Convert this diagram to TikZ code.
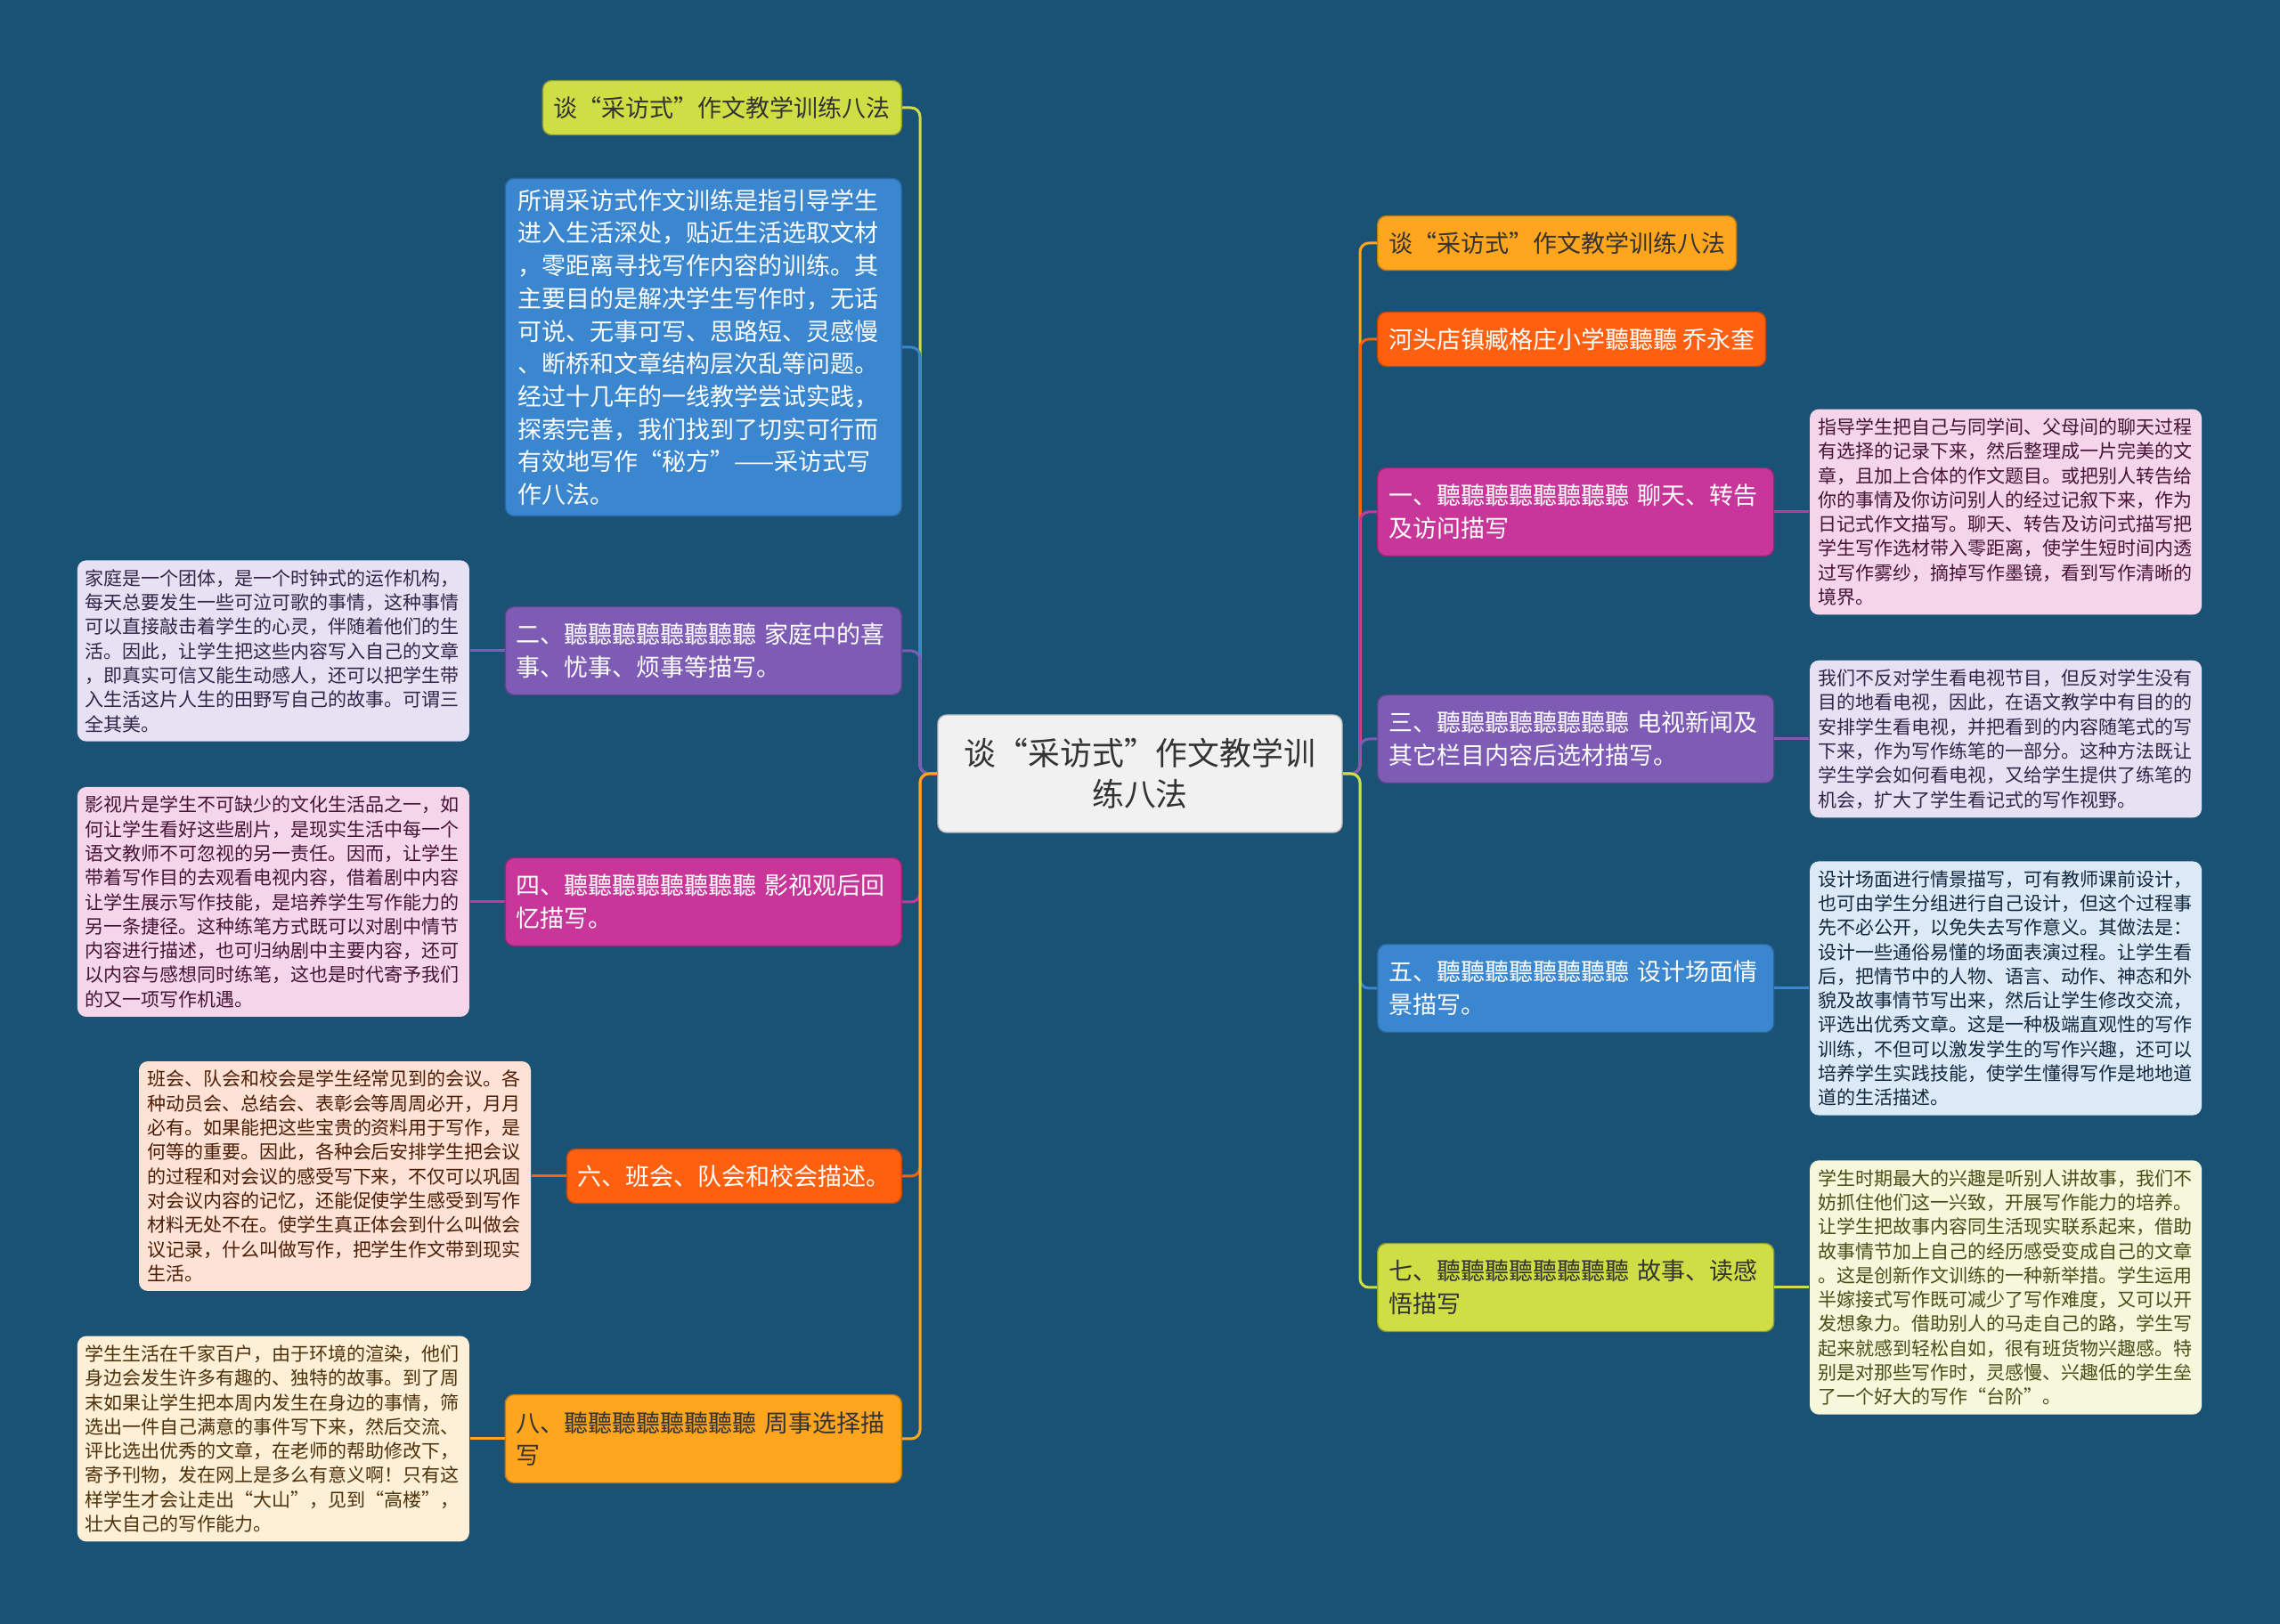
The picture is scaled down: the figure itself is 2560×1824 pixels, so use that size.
\documentclass[tikz,border=0pt]{standalone}
\usepackage{fontspec}
\newfontfamily\cjk{Noto Sans CJK SC}
\usetikzlibrary{positioning}

\definecolor{bgblue}{HTML}{1A5276}
\definecolor{hubfill}{HTML}{F1F1F1}
\definecolor{lime}{HTML}{D0DE45}
\definecolor{sky}{HTML}{3A86CF}
\definecolor{violet}{HTML}{7E5BB5}
\definecolor{rose}{HTML}{C8369A}
\definecolor{flame}{HTML}{FF6010}
\definecolor{amber}{HTML}{FFA51E}
\definecolor{violetpale}{HTML}{E7E2F3}
\definecolor{rosepale}{HTML}{F4D5EA}
\definecolor{flamepale}{HTML}{FDE2D5}
\definecolor{amberpale}{HTML}{FEEFD7}
\definecolor{skypale}{HTML}{DCE9F6}
\definecolor{limepale}{HTML}{F5F8DB}

\begin{document}
\begin{tikzpicture}[x=0.1mm,y=-0.1mm,node distance=3.9mm,
  every node/.style={rounded corners=1mm,font=\cjk},
  hub/.style={fill=hubfill,draw=black!25,text=black!80,align=center,
    font=\cjk\fontsize{10.2pt}{13.1pt}\selectfont,minimum width=45.4mm,minimum height=13.2mm},
  branch/.style={font=\cjk\fontsize{7.68pt}{10.44pt}\selectfont,inner xsep=1.25mm,inner ysep=0pt,
    minimum height=6.1mm},
  twoline/.style={branch,text width=42mm,align=left,minimum height=9.9mm},
  leaf/.style={font=\cjk\fontsize{5.975pt}{7.77pt}\selectfont,text width=42.2mm,align=left,
    inner xsep=0.9mm,inner ysep=1mm},
  link/.style={line width=0.3mm,rounded corners=1mm}]
\fill[bgblue] (0,0) rectangle (2560,1824);

\node[hub] (c) at (1280,869) {谈“采访式”作文教学训\\练八法};
\coordinate (lj) at (1033,869);
\coordinate (rj) at (1527,869);

% left side
\node[branch,fill=lime,draw=lime!70!black,text=black!80,anchor=east] (l0) at (1013,121) {谈“采访式”作文教学训练八法};
\node[branch,fill=sky,draw=sky!75!black,text=white,text width=41.7mm,align=left,inner xsep=1.4mm,inner ysep=1.2mm,
  font=\cjk\fontsize{7.68pt}{10.44pt}\selectfont,anchor=east] (l1) at (1013,390)
  {所谓采访式作文训练是指引导学生\\进入生活深处，贴近生活选取文材\\，零距离寻找写作内容的训练。其\\主要目的是解决学生写作时，无话\\可说、无事可写、思路短、灵感慢\\、断桥和文章结构层次乱等问题。\\经过十几年的一线教学尝试实践，\\探索完善，我们找到了切实可行而\\有效地写作“秘方”——采访式写\\作八法。};
\node[twoline,fill=violet,draw=violet!75!black,text=white,anchor=east] (l2) at (1013,731)
  {二、聽聽聽聽聽聽聽聽~家庭中的喜\\事、忧事、烦事等描写。};
\node[leaf,fill=violetpale,text=violet!40!black,left=of l2] (d2)
  {家庭是一个团体，是一个时钟式的运作机构，\\每天总要发生一些可泣可歌的事情，这种事情\\可以直接敲击着学生的心灵，伴随着他们的生\\活。因此，让学生把这些内容写入自己的文章\\，即真实可信又能生动感人，还可以把学生带\\入生活这片人生的田野写自己的故事。可谓三\\全其美。};
\node[twoline,fill=rose,draw=rose!75!black,text=white,anchor=east] (l4) at (1013,1013)
  {四、聽聽聽聽聽聽聽聽~影视观后回\\忆描写。};
\node[leaf,fill=rosepale,text=rose!35!black,left=of l4] (d4)
  {影视片是学生不可缺少的文化生活品之一，如\\何让学生看好这些剧片，是现实生活中每一个\\语文教师不可忽视的另一责任。因而，让学生\\带着写作目的去观看电视内容，借着剧中内容\\让学生展示写作技能，是培养学生写作能力的\\另一条捷径。这种练笔方式既可以对剧中情节\\内容进行描述，也可归纳剧中主要内容，还可\\以内容与感想同时练笔，这也是时代寄予我们\\的又一项写作机遇。};
\node[branch,fill=flame,draw=flame!75!black,text=white,anchor=east] (l6) at (1013,1321)
  {六、班会、队会和校会描述。};
\node[leaf,fill=flamepale,text=flame!30!black,left=of l6] (d6)
  {班会、队会和校会是学生经常见到的会议。各\\种动员会、总结会、表彰会等周周必开，月月\\必有。如果能把这些宝贵的资料用于写作，是\\何等的重要。因此，各种会后安排学生把会议\\的过程和对会议的感受写下来，不仅可以巩固\\对会议内容的记忆，还能促使学生感受到写作\\材料无处不在。使学生真正体会到什么叫做会\\议记录，什么叫做写作，把学生作文带到现实\\生活。};
\node[twoline,fill=amber,draw=amber!75!black,text=black!80,anchor=east] (l8) at (1013,1616)
  {八、聽聽聽聽聽聽聽聽~周事选择描\\写};
\node[leaf,fill=amberpale,text=amber!30!black,left=of l8] (d8)
  {学生生活在千家百户，由于环境的渲染，他们\\身边会发生许多有趣的、独特的故事。到了周\\末如果让学生把本周内发生在身边的事情，筛\\选出一件自己满意的事件写下来，然后交流、\\评比选出优秀的文章，在老师的帮助修改下，\\寄予刊物，发在网上是多么有意义啊！只有这\\样学生才会让走出“大山”，见到“高楼”，\\壮大自己的写作能力。};

% right side
\node[branch,fill=amber,draw=amber!75!black,text=black!80,anchor=west] (r0) at (1546,273) {谈“采访式”作文教学训练八法};
\node[branch,fill=flame,draw=flame!75!black,text=white,anchor=west] (r9) at (1546,381) {河头店镇臧格庄小学聽聽聽 乔永奎};
\node[twoline,fill=rose,draw=rose!75!black,text=white,anchor=west] (r1) at (1546,575)
  {一、聽聽聽聽聽聽聽聽~聊天、转告\\及访问描写};
\node[leaf,fill=rosepale,text=rose!35!black,right=of r1] (d1)
  {指导学生把自己与同学间、父母间的聊天过程\\有选择的记录下来，然后整理成一片完美的文\\章，且加上合体的作文题目。或把别人转告给\\你的事情及你访问别人的经过记叙下来，作为\\日记式作文描写。聊天、转告及访问式描写把\\学生写作选材带入零距离，使学生短时间内透\\过写作雾纱，摘掉写作墨镜，看到写作清晰的\\境界。};
\node[twoline,fill=violet,draw=violet!75!black,text=white,anchor=west] (r3) at (1546,830)
  {三、聽聽聽聽聽聽聽聽~电视新闻及\\其它栏目内容后选材描写。};
\node[leaf,fill=violetpale,text=violet!40!black,right=of r3] (d3)
  {我们不反对学生看电视节目，但反对学生没有\\目的地看电视，因此，在语文教学中有目的的\\安排学生看电视，并把看到的内容随笔式的写\\下来，作为写作练笔的一部分。这种方法既让\\学生学会如何看电视，又给学生提供了练笔的\\机会，扩大了学生看记式的写作视野。};
\node[twoline,fill=sky,draw=sky!75!black,text=white,anchor=west] (r5) at (1546,1110)
  {五、聽聽聽聽聽聽聽聽~设计场面情\\景描写。};
\node[leaf,fill=skypale,text=sky!30!black,right=of r5] (d5)
  {设计场面进行情景描写，可有教师课前设计，\\也可由学生分组进行自己设计，但这个过程事\\先不必公开，以免失去写作意义。其做法是：\\设计一些通俗易懂的场面表演过程。让学生看\\后，把情节中的人物、语言、动作、神态和外\\貌及故事情节写出来，然后让学生修改交流，\\评选出优秀文章。这是一种极端直观性的写作\\训练，不但可以激发学生的写作兴趣，还可以\\培养学生实践技能，使学生懂得写作是地地道\\道的生活描述。};
\node[twoline,fill=lime,draw=lime!70!black,text=black!80,anchor=west] (r7) at (1546,1446)
  {七、聽聽聽聽聽聽聽聽~故事、读感\\悟描写};
\node[leaf,fill=limepale,text=lime!35!black,right=of r7] (d7)
  {学生时期最大的兴趣是听别人讲故事，我们不\\妨抓住他们这一兴致，开展写作能力的培养。\\让学生把故事内容同生活现实联系起来，借助\\故事情节加上自己的经历感受变成自己的文章\\。这是创新作文训练的一种新举措。学生运用\\半嫁接式写作既可减少了写作难度，又可以开\\发想象力。借助别人的马走自己的路，学生写\\起来就感到轻松自如，很有班货物兴趣感。特\\别是对那些写作时，灵感慢、兴趣低的学生垒\\了一个好大的写作“台阶”。};

% connectors
\draw[link,lime] (c.west) -- (lj) |- (l0.east);
\draw[link,sky] (c.west) -- (lj) |- (l1.east);
\draw[link,violet] (c.west) -- (lj) |- (l2.east);
\draw[link,rose] (c.west) -- (lj) |- (l4.east);
\draw[link,flame] (c.west) -- (lj) |- (l6.east);
\draw[link,amber] (c.west) -- (lj) |- (l8.east);
\draw[link,amber] (c.east) -- (rj) |- (r0.west);
\draw[link,flame] (c.east) -- (rj) |- (r9.west);
\draw[link,rose] (c.east) -- (rj) |- (r1.west);
\draw[link,violet] (c.east) -- (rj) |- (r3.west);
\draw[link,sky] (c.east) -- (rj) |- (r5.west);
\draw[link,lime] (c.east) -- (rj) |- (r7.west);
\draw[link,violet] (l2) -- (d2);
\draw[link,rose] (l4) -- (d4);
\draw[link,flame] (l6) -- (d6);
\draw[link,amber] (l8) -- (d8);
\draw[link,rose] (r1) -- (d1);
\draw[link,violet] (r3) -- (d3);
\draw[link,sky] (r5) -- (d5);
\draw[link,lime] (r7) -- (d7);
\end{tikzpicture}
\end{document}
